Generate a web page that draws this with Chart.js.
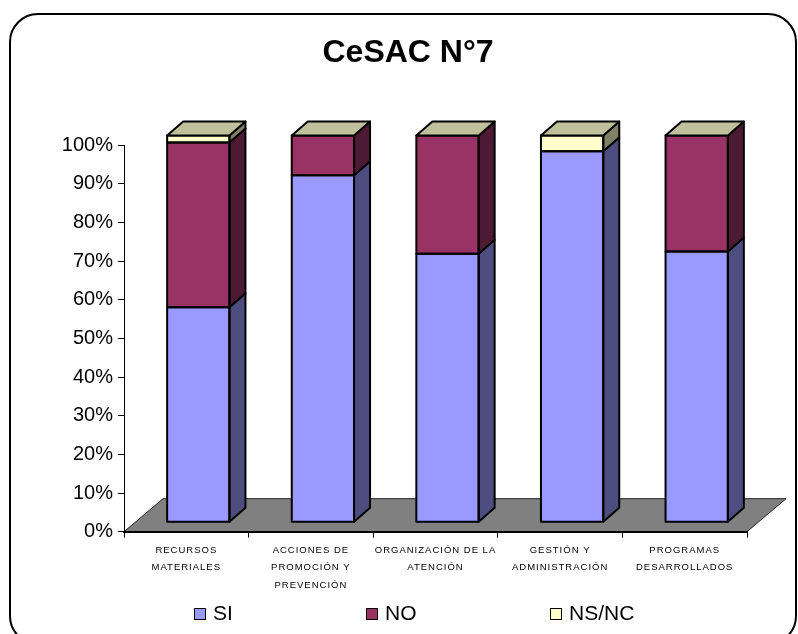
<!DOCTYPE html>
<html>
<head>
<meta charset="utf-8">
<script src="https://cdn.jsdelivr.net/npm/chart.js@4.4.0/dist/chart.umd.min.js"></script>
<style>
  body { margin: 0; background: #fff; }
  canvas { display: block; }
</style>
</head>
<body>
<canvas id="cesacChart" width="798" height="634"></canvas>
<script>
// data (percent of answers per area)
const categories = [
  ["RECURSOS", "MATERIALES"],
  ["ACCIONES DE", "PROMOCIÓN Y", "PREVENCIÓN"],
  ["ORGANIZACIÓN DE LA", "ATENCIÓN"],
  ["GESTIÓN Y", "ADMINISTRACIÓN"],
  ["PROGRAMAS", "DESARROLLADOS"],
];
const siValues = [55.6, 89.7, 69.4, 95.9, 70.0];
const noValues = [42.6, 10.3, 30.6, 0, 30.0];
const nsncValues = [1.8, 0, 0, 4.1, 0];
const percentTicks = [0, 10, 20, 30, 40, 50, 60, 70, 80, 90, 100];

const FONT = "'Liberation Sans', Arial, sans-serif";

// colours: front, side, top
const styles = [
  { front: "#9999FF", side: "#4D4D80", top: "#7373BF" },
  { front: "#993366", side: "#4D1A33", top: "#73264D" },
  { front: "#FFFFCC", side: "#808066", top: "#C0C09C" },
];

// fake 3d offsets
const FRONT = { x: 12, y: -9.5 };
const BAR_DEPTH = { x: 16, y: -14 };
const FLOOR_DEPTH = { x: 39, y: -33 };

const threeD = {
  id: "threeD",
  beforeDraw(chart) {
    const { ctx, chartArea: a } = chart;
    ctx.save();
    // outer rounded frame
    ctx.beginPath();
    ctx.roundRect(10, 14, 786, 630, 28);
    ctx.lineWidth = 2;
    ctx.strokeStyle = "#000";
    ctx.stroke();
    // floor
    ctx.beginPath();
    ctx.moveTo(a.left, a.bottom);
    ctx.lineTo(a.left + FLOOR_DEPTH.x, a.bottom + FLOOR_DEPTH.y);
    ctx.lineTo(a.right + FLOOR_DEPTH.x, a.bottom + FLOOR_DEPTH.y);
    ctx.lineTo(a.right, a.bottom);
    ctx.closePath();
    ctx.fillStyle = "#808080";
    ctx.fill();
    ctx.lineWidth = 1;
    ctx.strokeStyle = "#222";
    ctx.stroke();
    ctx.restore();
  },
  beforeDatasetsDraw(chart) {
    chart.ctx.save();
    chart.ctx.translate(FRONT.x, FRONT.y);
  },
  afterDatasetsDraw(chart) {
    const ctx = chart.ctx;
    const last = chart.data.datasets.length - 1;
    ctx.lineWidth = 2;
    ctx.strokeStyle = "#000";
    ctx.lineJoin = "round";
    chart.data.datasets.forEach((ds, di) => {
      chart.getDatasetMeta(di).data.forEach((bar) => {
        const { x, y, base, width } = bar.getProps(["x", "y", "base", "width"], true);
        const l = x - width / 2;
        const r = x + width / 2;
        const top = Math.min(y, base);
        const bot = Math.max(y, base);
        if (bot - top > 0.5) {
          ctx.beginPath();
          ctx.moveTo(r, top);
          ctx.lineTo(r + BAR_DEPTH.x, top + BAR_DEPTH.y);
          ctx.lineTo(r + BAR_DEPTH.x, bot + BAR_DEPTH.y);
          ctx.lineTo(r, bot);
          ctx.closePath();
          ctx.fillStyle = styles[di].side;
          ctx.fill();
          ctx.stroke();
          // front outline so segment joins stay crisp
          ctx.strokeRect(l, top, width, bot - top);
        }
        if (di === last) {
          ctx.beginPath();
          ctx.moveTo(l, top);
          ctx.lineTo(l + BAR_DEPTH.x, top + BAR_DEPTH.y);
          ctx.lineTo(r + BAR_DEPTH.x, top + BAR_DEPTH.y);
          ctx.lineTo(r, top);
          ctx.closePath();
          ctx.fillStyle = styles[di].top;
          ctx.fill();
          ctx.stroke();
        }
      });
    });
    ctx.restore();
  },
  afterDraw(chart) {
    const ctx = chart.ctx;
    const xScale = chart.scales.x;
    ctx.save();
    ctx.fillStyle = "#000";

    // title
    ctx.font = "bold 32px " + FONT;
    ctx.textAlign = "center";
    ctx.textBaseline = "middle";
    ctx.fillText("CeSAC N°7", 408, 53);

    // category labels, small and spaced out
    ctx.font = "9.5px " + FONT;
    ctx.letterSpacing = "1px";
    categories.forEach((lines, i) => {
      const cx = xScale.getPixelForValue(i);
      lines.forEach((txt, k) => ctx.fillText(txt, cx, 550 + k * 17.5));
    });
    ctx.letterSpacing = "0px";

    // legend
    const legendX = [194, 366, 550];
    ctx.font = "21px " + FONT;
    ctx.textAlign = "left";
    chart.data.datasets.forEach((ds, i) => {
      ctx.fillStyle = ds.backgroundColor;
      ctx.fillRect(legendX[i], 608, 12, 12);
      ctx.lineWidth = 1;
      ctx.strokeStyle = "#000";
      ctx.strokeRect(legendX[i] + 0.5, 608.5, 11, 11);
      ctx.fillStyle = "#000";
      ctx.fillText(ds.label, legendX[i] + 19, 614);
    });
    ctx.restore();
  },
};

function makeDataset(label, values, i) {
  return {
    label: label,
    data: values,
    backgroundColor: styles[i].front,
    borderWidth: 0,
    clip: false,
    barPercentage: 0.5,
    categoryPercentage: 1,
  };
}

const ctx = document.getElementById("cesacChart").getContext("2d");
new Chart(ctx, {
  type: "bar",
  data: {
    labels: categories,
    datasets: [
      makeDataset("SI", siValues, 0),
      makeDataset("NO", noValues, 1),
      makeDataset("NS/NC", nsncValues, 2),
    ],
  },
  options: {
    responsive: false,
    animation: false,
    layout: { padding: { top: 145, right: 51, bottom: 0, left: 0 } },
    plugins: {
      legend: { display: false },
      title: { display: false },
      tooltip: { enabled: false },
    },
    scales: {
      x: {
        stacked: true,
        offset: true,
        ticks: { display: false },
        grid: { display: true, offset: true, drawOnChartArea: false, tickLength: 6, color: "#000" },
        border: { display: true, color: "#000", width: 2 },
        afterFit: (s) => { s.height = 102.3; },
      },
      y: {
        stacked: true,
        min: 0,
        max: 100,
        afterBuildTicks: (s) => { s.ticks = percentTicks.map((v) => ({ value: v })); },
        ticks: {
          color: "#000",
          padding: 5,
          font: { family: FONT, size: 20 },
          callback: (v) => v + "%",
        },
        grid: { display: true, drawOnChartArea: false, tickLength: 6, color: "#000" },
        border: { display: true, color: "#000", width: 1 },
        afterFit: (s) => { s.width = 124; },
      },
    },
  },
  plugins: [threeD],
});
</script>
</body>
</html>
